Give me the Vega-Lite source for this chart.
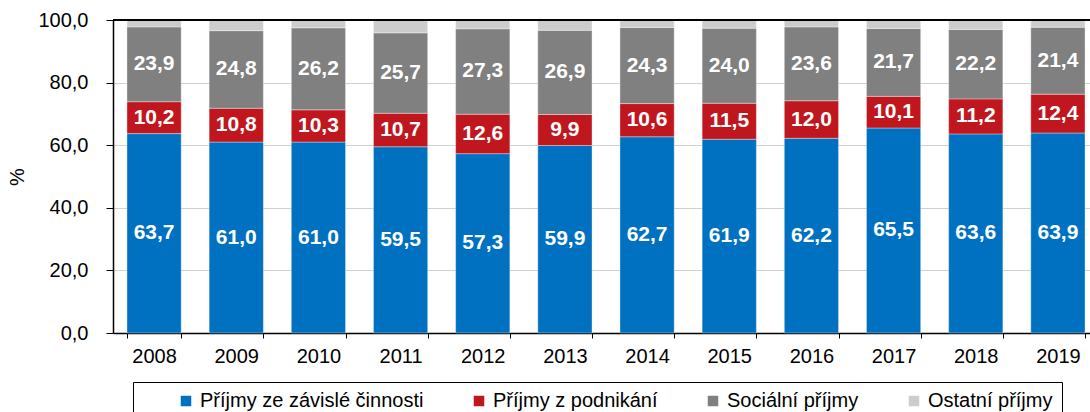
{
  "$schema": "https://vega.github.io/schema/vega-lite/v6.json",
  "autosize": {"type": "none"},
  "width": 986,
  "height": 313,
  "padding": {"left": 113, "top": 20, "right": 0, "bottom": 79},
  "background": "white",
  "config": {
    "locale": {"number": {"decimal": ",", "thousands": " ", "grouping": [3], "currency": ["", " Kč"]}},
    "font": "Liberation Sans",
    "view": {"stroke": null}
  },
  "data": {"values": [
    {"year": "2008", "cat": "Příjmy ze závislé činnosti", "k": 1, "value": 63.7},
    {"year": "2008", "cat": "Příjmy z podnikání", "k": 2, "value": 10.2},
    {"year": "2008", "cat": "Sociální příjmy", "k": 3, "value": 23.9},
    {"year": "2008", "cat": "Ostatní příjmy", "k": 4, "value": 2.2},
    {"year": "2009", "cat": "Příjmy ze závislé činnosti", "k": 1, "value": 61.0},
    {"year": "2009", "cat": "Příjmy z podnikání", "k": 2, "value": 10.8},
    {"year": "2009", "cat": "Sociální příjmy", "k": 3, "value": 24.8},
    {"year": "2009", "cat": "Ostatní příjmy", "k": 4, "value": 3.4},
    {"year": "2010", "cat": "Příjmy ze závislé činnosti", "k": 1, "value": 61.0},
    {"year": "2010", "cat": "Příjmy z podnikání", "k": 2, "value": 10.3},
    {"year": "2010", "cat": "Sociální příjmy", "k": 3, "value": 26.2},
    {"year": "2010", "cat": "Ostatní příjmy", "k": 4, "value": 2.5},
    {"year": "2011", "cat": "Příjmy ze závislé činnosti", "k": 1, "value": 59.5},
    {"year": "2011", "cat": "Příjmy z podnikání", "k": 2, "value": 10.7},
    {"year": "2011", "cat": "Sociální příjmy", "k": 3, "value": 25.7},
    {"year": "2011", "cat": "Ostatní příjmy", "k": 4, "value": 4.1},
    {"year": "2012", "cat": "Příjmy ze závislé činnosti", "k": 1, "value": 57.3},
    {"year": "2012", "cat": "Příjmy z podnikání", "k": 2, "value": 12.6},
    {"year": "2012", "cat": "Sociální příjmy", "k": 3, "value": 27.3},
    {"year": "2012", "cat": "Ostatní příjmy", "k": 4, "value": 2.8},
    {"year": "2013", "cat": "Příjmy ze závislé činnosti", "k": 1, "value": 59.9},
    {"year": "2013", "cat": "Příjmy z podnikání", "k": 2, "value": 9.9},
    {"year": "2013", "cat": "Sociální příjmy", "k": 3, "value": 26.9},
    {"year": "2013", "cat": "Ostatní příjmy", "k": 4, "value": 3.3},
    {"year": "2014", "cat": "Příjmy ze závislé činnosti", "k": 1, "value": 62.7},
    {"year": "2014", "cat": "Příjmy z podnikání", "k": 2, "value": 10.6},
    {"year": "2014", "cat": "Sociální příjmy", "k": 3, "value": 24.3},
    {"year": "2014", "cat": "Ostatní příjmy", "k": 4, "value": 2.4},
    {"year": "2015", "cat": "Příjmy ze závislé činnosti", "k": 1, "value": 61.9},
    {"year": "2015", "cat": "Příjmy z podnikání", "k": 2, "value": 11.5},
    {"year": "2015", "cat": "Sociální příjmy", "k": 3, "value": 24.0},
    {"year": "2015", "cat": "Ostatní příjmy", "k": 4, "value": 2.6},
    {"year": "2016", "cat": "Příjmy ze závislé činnosti", "k": 1, "value": 62.2},
    {"year": "2016", "cat": "Příjmy z podnikání", "k": 2, "value": 12.0},
    {"year": "2016", "cat": "Sociální příjmy", "k": 3, "value": 23.6},
    {"year": "2016", "cat": "Ostatní příjmy", "k": 4, "value": 2.2},
    {"year": "2017", "cat": "Příjmy ze závislé činnosti", "k": 1, "value": 65.5},
    {"year": "2017", "cat": "Příjmy z podnikání", "k": 2, "value": 10.1},
    {"year": "2017", "cat": "Sociální příjmy", "k": 3, "value": 21.7},
    {"year": "2017", "cat": "Ostatní příjmy", "k": 4, "value": 2.7},
    {"year": "2018", "cat": "Příjmy ze závislé činnosti", "k": 1, "value": 63.6},
    {"year": "2018", "cat": "Příjmy z podnikání", "k": 2, "value": 11.2},
    {"year": "2018", "cat": "Sociální příjmy", "k": 3, "value": 22.2},
    {"year": "2018", "cat": "Ostatní příjmy", "k": 4, "value": 3.0},
    {"year": "2019", "cat": "Příjmy ze závislé činnosti", "k": 1, "value": 63.9},
    {"year": "2019", "cat": "Příjmy z podnikání", "k": 2, "value": 12.4},
    {"year": "2019", "cat": "Sociální příjmy", "k": 3, "value": 21.4},
    {"year": "2019", "cat": "Ostatní příjmy", "k": 4, "value": 2.3}
  ]},
  "transform": [
    {"stack": "value", "groupby": ["year"], "sort": [{"field": "k", "order": "ascending"}], "as": ["y0", "y1"]}
  ],
  "layer": [
    {
      "mark": {"type": "bar", "stroke": "#ffffff", "strokeWidth": 0.8, "strokeOpacity": 0.45},
      "encoding": {
        "x": {
          "field": "year", "type": "nominal", "title": null,
          "scale": {"paddingInner": 0.34, "paddingOuter": 0.17},
          "axis": {
            "labelAngle": 0, "labelFontSize": 20, "labelColor": "black", "labelPadding": 8,
            "domainColor": "black", "domainWidth": 1.5, "tickColor": "black", "tickSize": 5,
            "tickWidth": 1, "tickBand": "extent", "grid": false
          }
        },
        "y": {
          "field": "y0", "type": "quantitative", "title": "%",
          "scale": {"domain": [0, 100], "nice": false},
          "axis": {
            "values": [0, 20, 40, 60, 80, 100], "format": ".1f",
            "labelFontSize": 20, "labelColor": "black", "labelPadding": 18,
            "domainColor": "black", "domainWidth": 1.5, "tickColor": "black", "tickSize": 7,
            "gridColor": "#d0d0d0", "gridWidth": 1,
            "titleFontSize": 20, "titleFontWeight": "normal", "titleColor": "black", "titlePadding": 10
          }
        },
        "y2": {"field": "y1"},
        "color": {
          "field": "cat", "type": "nominal", "title": null,
          "scale": {
            "domain": ["Příjmy ze závislé činnosti", "Příjmy z podnikání", "Sociální příjmy", "Ostatní příjmy"],
            "range": ["#0070c0", "#c0171f", "#808080", "#cccccc"]
          },
          "legend": {
            "orient": "none", "legendX": 20, "legendY": 362, "direction": "horizontal", "columns": 4,
            "symbolType": "square", "symbolSize": 110, "symbolStrokeWidth": 0,
            "labelFontSize": 20, "labelColor": "black", "labelOffset": 4, "labelLimit": 400,
            "columnPadding": 45, "padding": 9, "strokeColor": "black", "fillColor": "white",
            "title": "\u00a0", "titleOrient": "left", "titlePadding": 34, "titleFontSize": 17
          }
        },
        "order": {"field": "k", "type": "quantitative"}
      }
    },
    {
      "mark": {"type": "rule", "color": "black", "strokeWidth": 1.5},
      "encoding": {"y": {"datum": 100}}
    },
    {
      "transform": [{"filter": "datum.k < 4"}],
      "mark": {
        "type": "text", "color": "white", "fontWeight": "bold", "fontSize": 21,
        "baseline": "middle", "align": "center",
        "dy": {"expr": "(scale('y', datum.value) - scale('y', 0)) / 2"}
      },
      "encoding": {
        "x": {"field": "year", "type": "nominal"},
        "y": {"field": "y0", "type": "quantitative"},
        "text": {"field": "value", "type": "quantitative", "format": ".1f"}
      }
    }
  ]
}
